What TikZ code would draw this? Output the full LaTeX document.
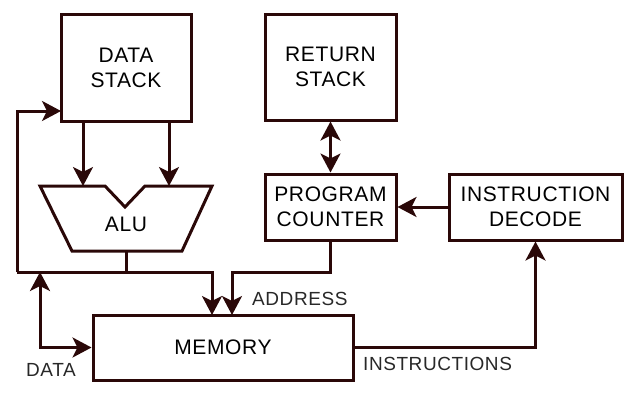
\documentclass[tikz,border=0pt]{standalone}
\usepackage{fontspec}
\setmainfont[LetterSpace=3]{Liberation Sans}
\usetikzlibrary{arrows.meta}
\definecolor{wire}{RGB}{42,8,8}
\definecolor{lbl}{RGB}{40,40,40}
\tikzset{
  block/.style={draw=wire,line width=3pt,fill=white,align=center,inner sep=0pt,
    font=\fontsize{21}{25}\selectfont},
  tag/.style={anchor=west,inner sep=0pt,text=lbl,font=\fontsize{19}{22}\selectfont},
  wr/.style={draw=wire,line width=3pt},
  arr/.style={wr,-{Stealth[length=19pt,width=20pt,inset=5pt]}},
  arr2/.style={wr,{Stealth[length=19pt,width=20pt,inset=5pt]}-{Stealth[length=19pt,width=20pt,inset=5pt]}}
}

\begin{document}
\begin{tikzpicture}[x=1pt,y=-1pt]
    \useasboundingbox (0,0) rectangle (634,402);

    % — Blocks
    \node[block,minimum width=130,minimum height=107] (dstack) at (126,68)    {DATA\\STACK};
    \node[block,minimum width=131,minimum height=106] (rstack) at (330.5,67)  {RETURN\\STACK};
    \node[block,minimum width=131,minimum height=66]  (pc)     at (330.5,207) {PROGRAM\\COUNTER};
    \node[block,minimum width=173,minimum height=66]  (idec)   at (535.5,207) {INSTRUCTION\\DECODE};
    \node[block,minimum width=260,minimum height=65]  (mem)    at (223,347.5) {MEMORY};

    % — ALU (notched trapezoid)
    \draw[wr,line join=miter] (40,186) -- (105,186) -- (125,207) -- (145,186) -- (212,186)
      -- (182,251) -- (72,251) -- cycle;
    \node[font=\fontsize{21}{25}\selectfont,inner sep=0pt] (alu) at (126,224) {ALU};

    % — Connection points
    \coordinate (alu in1) at (83,186);
    \coordinate (alu in2) at (169,186);
    \coordinate (alu out) at (126,251);
    \coordinate (fb)      at (17,272);
    \coordinate (dt)      at (40,272);
    \coordinate (ds in)   at (61,111);
    \coordinate (mem a)   at (212,315);
    \coordinate (mem b)   at (232,315);

    % — Data path
    \draw[arr] (dstack.south -| alu in1) -- (alu in1);
    \draw[arr] (dstack.south -| alu in2) -- (alu in2);
    \draw[wr]  (alu out) -- (alu out |- fb);
    \draw[arr] (fb) -| (mem a);
    \draw[arr] (fb) |- (ds in);
    \draw[arr2] (dt) |- (mem.west);

    % — Control path
    \draw[arr2] (rstack) -- (pc);
    \draw[arr] (idec.west) -- (pc.east);
    \draw[arr] (pc.south) -- ++(0,31) -| (mem b);
    \draw[arr] (mem.east) -| (idec.south);

    % — Labels
    \node[tag] (addr)  at (252,299) {ADDRESS};
    \node[tag] (instr) at (363,364) {INSTRUCTIONS};
    \node[tag] (data)  at (26,370)  {DATA};
\end{tikzpicture}
\end{document}
